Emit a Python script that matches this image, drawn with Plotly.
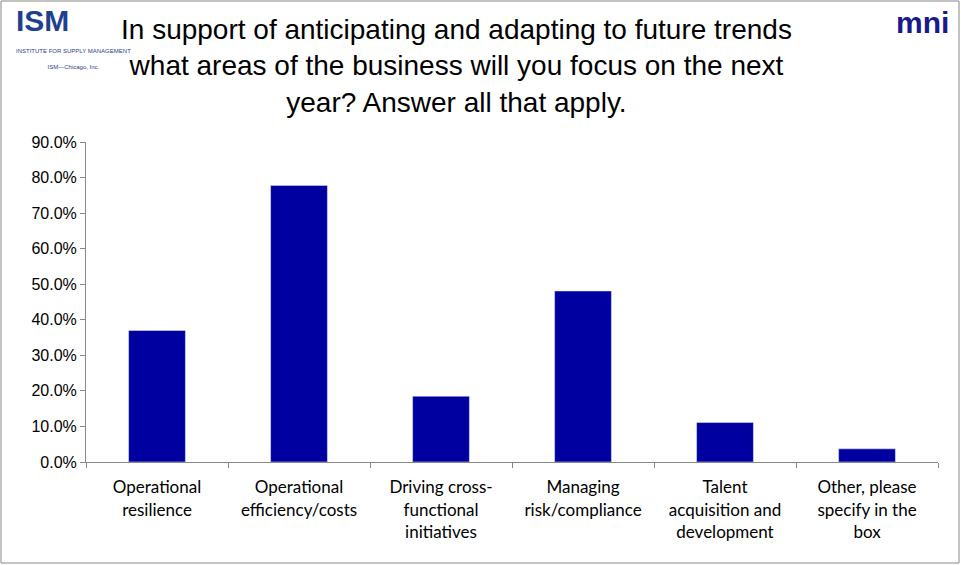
import plotly.graph_objects as go

categories = ['Operational<br>resilience', 'Operational<br>efficiency/costs', 'Driving cross-<br>functional<br>initiatives',
              'Managing<br>risk/compliance', 'Talent<br>acquisition and<br>development', 'Other, please<br>specify in the<br>box']
values = [37.0, 77.8, 18.5, 48.1, 11.1, 3.7]
yticks = [0, 10, 20, 30, 40, 50, 60, 70, 80, 90]

fig = go.Figure(go.Bar(x=categories, y=values, marker_color='#0000A0', width=0.4))

fig.update_layout(
    width=961, height=565,
    margin=dict(l=86, r=23, t=142, b=103),
    plot_bgcolor='white', paper_bgcolor='white',
    showlegend=False,
    font=dict(family='Lato, Liberation Sans', size=17, color='black'),
)
fig.update_xaxes(tickson='boundaries', ticks='outside', ticklen=5, tickcolor='#888',
                 showline=True, linecolor='#888', tickfont=dict(size=17), ticklabelstandoff=10)
fig.update_yaxes(range=[0, 90], tickvals=yticks, ticktext=[f'{v:.1f}%' for v in yticks],
                 ticks='outside', ticklen=5, tickcolor='#888', showline=True, linecolor='#888',
                 showgrid=False, zeroline=False, tickfont=dict(family='Liberation Sans', size=16))

fig.add_annotation(text='In support of anticipating and adapting to future trends<br>what areas of the business will you focus on the next<br>year? Answer all that apply.',
                   xref='paper', yref='paper', x=0.435, y=1.0, yshift=130, xanchor='center', yanchor='top',
                   showarrow=False, font=dict(family='Liberation Sans', size=28, color='black'))
fig.add_annotation(text='<b>ISM</b>', xref='paper', yref='paper', x=-0.085, y=1.0, yshift=140,
                   xanchor='left', yanchor='top', showarrow=False,
                   font=dict(family='Liberation Sans', size=30, color='#1f3f8f'))
fig.add_annotation(text='INSTITUTE FOR SUPPLY MANAGEMENT<br><br>ISM—Chicago, Inc.', xref='paper', yref='paper',
                   x=-0.085, y=1.0, yshift=96, xanchor='left', yanchor='top', showarrow=False, align='center',
                   font=dict(family='Liberation Sans', size=6, color='#1f3f8f'))
fig.add_annotation(text='<b>mni</b>', xref='paper', yref='paper', x=1.015, y=1.0, yshift=138,
                   xanchor='right', yanchor='top', showarrow=False,
                   font=dict(family='Liberation Sans', size=30, color='#1a1a8c'))
fig.add_shape(type='rect', xref='paper', yref='paper', x0=-85/852, x1=1+21/852, y0=-101/320, y1=1+141/320,
              line=dict(color='#888', width=1))

fig.write_html('out.html', config={'displayModeBar': False},
               post_script="document.body.style.margin='0';")
